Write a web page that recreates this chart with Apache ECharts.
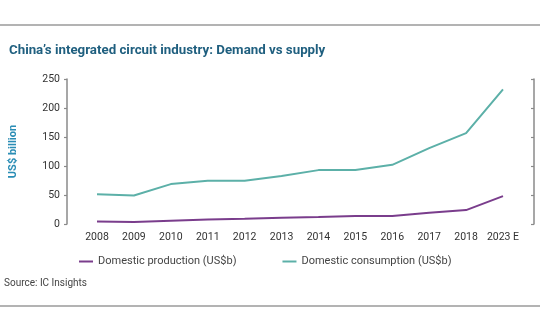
<!DOCTYPE html>
<html>
<head>
<meta charset="utf-8">
<script src="https://cdn.jsdelivr.net/npm/echarts@6/dist/echarts.min.js"></script>
<style>
  html, body { margin: 0; padding: 0; background: #fff; }
  #chart { width: 540px; height: 334px; }
</style>
</head>
<body>
<div id="chart"></div>
<script>
// Years on the x axis (last one is an estimate)
const years = ['2008', '2009', '2010', '2011', '2012', '2013', '2014', '2015', '2016', '2017', '2018', '2023 E'];
// Domestic IC production, US$ billion
const production = [4.5, 3.5, 5.7, 7.9, 9.1, 10.8, 12.0, 13.8, 13.8, 19.4, 24.0, 48.0];
// Domestic IC consumption, US$ billion
const consumption = [51.5, 49.2, 68.8, 74.5, 74.5, 82.6, 92.9, 93.0, 102.0, 130.8, 156.6, 232.0];
// Value axis ticks
const yTicks = [0, 50, 100, 150, 200, 250];

const FONT = 'Roboto, "Liberation Sans", sans-serif';
const PURPLE = '#7a3d8c';
const TEAL = '#5cb0a8';
const AXIS = '#8a8a8a';

const chart = echarts.init(document.getElementById('chart'), null, { renderer: 'canvas' });

chart.setOption({
  animation: false,
  textStyle: { fontFamily: FONT },
  title: {
    text: 'China\u2019s integrated circuit industry: Demand vs supply',
    left: 4,
    top: 39,
    textStyle: { fontFamily: FONT, fontSize: 13.3, fontWeight: 'bold', color: '#1f5f7f' }
  },
  graphic: [
    { type: 'line', shape: { x1: 0, y1: 25, x2: 540, y2: 25 }, style: { stroke: '#9a9a9a', lineWidth: 1.5 } },
    { type: 'line', shape: { x1: 0, y1: 306, x2: 540, y2: 306 }, style: { stroke: '#9a9a9a', lineWidth: 1.5 } },
    { type: 'text', left: 4, top: 278, style: { text: 'Source: IC Insights', fontFamily: FONT, fontSize: 10, fill: '#444' } }
  ],
  legend: {
    top: 251,
    left: 74,
    itemWidth: 14,
    itemHeight: 2,
    itemGap: 46,
    icon: 'rect',
    textStyle: { fontFamily: FONT, fontSize: 11, color: '#444' },
    data: ['Domestic production (US$b)', 'Domestic consumption (US$b)']
  },
  grid: { left: 92, right: 37, top: 79, bottom: 110 },
  xAxis: {
    type: 'category',
    data: years,
    boundaryGap: false,
    axisLine: { show: false },
    axisTick: { show: false },
    axisLabel: { interval: 0, margin: 8, fontSize: 10.5, color: '#333', fontFamily: FONT }
  },
  yAxis: [
    {
      type: 'value',
      position: 'left',
      offset: 30,
      min: yTicks[0],
      max: yTicks[yTicks.length - 1],
      interval: 50,
      name: 'US$ billion',
      nameLocation: 'middle',
      nameRotate: 90,
      nameGap: 48,
      nameTextStyle: { fontFamily: FONT, fontSize: 11, fontWeight: 'bold', color: '#2a8db5' },
      axisLine: { show: true, lineStyle: { color: AXIS, width: 1.5 } },
      axisTick: { show: true, length: 3, lineStyle: { color: AXIS, width: 1.2 } },
      axisLabel: { margin: 7, fontSize: 10.5, color: '#333', fontFamily: FONT },
      splitLine: { show: false }
    },
    {
      type: 'value',
      position: 'right',
      offset: 31,
      min: yTicks[0],
      max: yTicks[yTicks.length - 1],
      interval: 50,
      axisLine: { show: true, lineStyle: { color: AXIS, width: 1.5 } },
      axisTick: { show: true, inside: true, length: 3, lineStyle: { color: AXIS, width: 1.2 } },
      axisLabel: { show: false },
      splitLine: { show: false }
    }
  ],
  series: [
    {
      name: 'Domestic production (US$b)',
      type: 'line',
      data: production,
      symbol: 'none',
      lineStyle: { color: PURPLE, width: 2 },
      itemStyle: { color: PURPLE }
    },
    {
      name: 'Domestic consumption (US$b)',
      type: 'line',
      data: consumption,
      symbol: 'none',
      lineStyle: { color: TEAL, width: 2 },
      itemStyle: { color: TEAL }
    }
  ]
});
</script>
</body>
</html>
